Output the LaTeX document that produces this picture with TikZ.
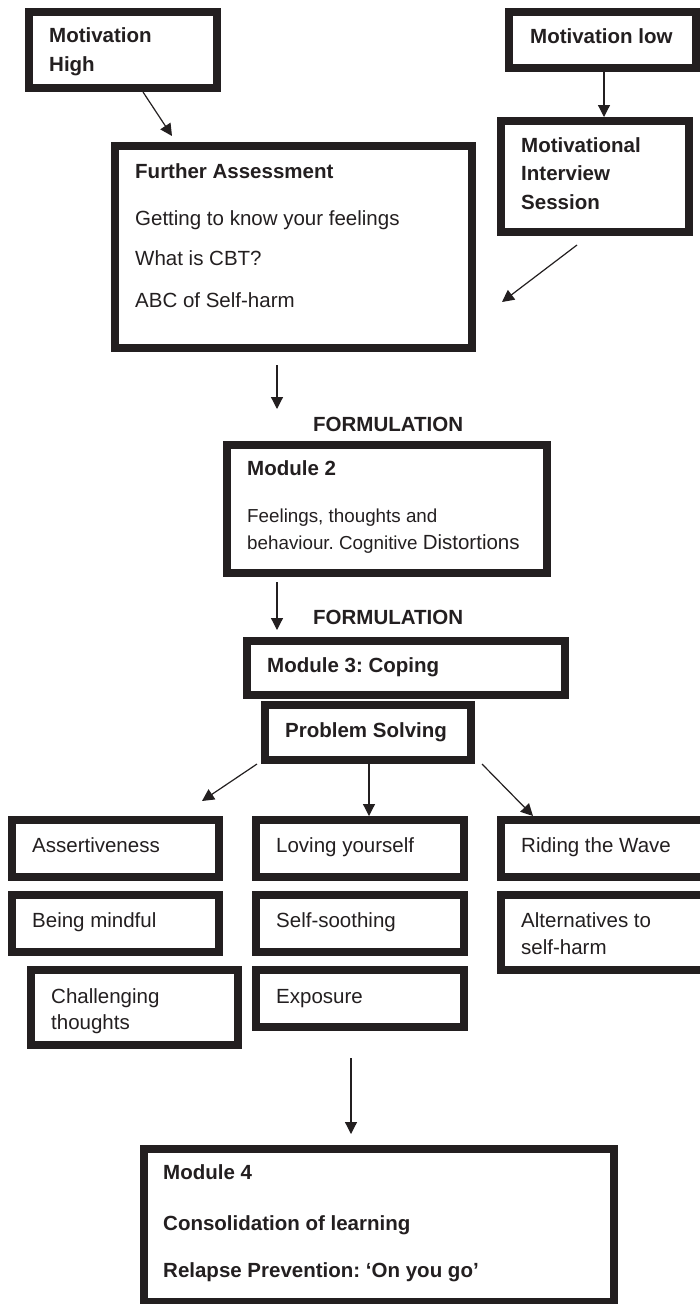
\documentclass[tikz,border=0pt]{standalone}
\usepackage{fontspec}
\setmainfont{Liberation Sans}
\usetikzlibrary{arrows.meta,calc}
\definecolor{ink}{HTML}{231F20}
\frenchspacing
\begin{document}
\begin{tikzpicture}[x=1pt,y=-1pt,
  box/.style={draw=ink, line width=8pt, inner sep=0pt},
  txt/.style={anchor=base west, inner sep=0pt, text=ink, font=\fontsize{20.5}{24}\selectfont},
  btxt/.style={txt, font=\fontsize{20.5}{24}\selectfont\bfseries},
  stxt/.style={txt, font=\fontsize{18.8}{22}\selectfont},
  conn/.style={draw=ink, line width=1.2pt, -{Triangle[width=12pt,length=12pt]}}]
\clip (0,0) rectangle (700,1304);
\fill[white] (0,0) rectangle (700,1304);

% boxes
\node[box, minimum width=188pt, minimum height=76pt]  (mh)  at (123,50) {};
\node[box, minimum width=187pt, minimum height=56pt]  (ml)  at (602.5,40) {};
\node[box, minimum width=188pt, minimum height=111pt] (mis) at (595,176.5) {};
\node[box, minimum width=357pt, minimum height=202pt] (fa)  at (293.5,247) {};
\node[box, minimum width=320pt, minimum height=128pt] (m2)  at (387,509) {};
\node[box, minimum width=318pt, minimum height=54pt]  (m3)  at (406,668) {};
\node[box, minimum width=206pt, minimum height=55pt]  (ps)  at (368,732.5) {};
\node[box, minimum width=207pt, minimum height=57pt]  (as)  at (115.5,848.5) {};
\node[box, minimum width=207pt, minimum height=57pt]  (bm)  at (115.5,923.5) {};
\node[box, minimum width=207pt, minimum height=75pt]  (ch)  at (134.5,1007.5) {};
\node[box, minimum width=208pt, minimum height=57pt]  (ly)  at (360,848.5) {};
\node[box, minimum width=208pt, minimum height=57pt]  (ss)  at (360,923.5) {};
\node[box, minimum width=208pt, minimum height=57pt]  (ex)  at (360,998.5) {};
\node[box, minimum width=207pt, minimum height=57pt]  (rw)  at (604.5,848.5) {};
\node[box, minimum width=207pt, minimum height=75pt]  (al)  at (604.5,932.5) {};
\node[box, minimum width=470pt, minimum height=153pt] (m4)  at (379,1225.5) {};

% texts
\node[btxt] (mh1) at (49,42) {Motivation};
\node[btxt] (mh2) at (49,71) {High};
\node[btxt] (ml1) at (530,43) {Motivation low};
\node[btxt] (mis1) at (521,152) {Motivational};
\node[btxt] (mis2) at (521,180) {Interview};
\node[btxt] (mis3) at (521,209) {Session};
\node[btxt] (fa1) at (135,178) {Further Assessment};
\node[txt]  (fa2) at (135,225) {Getting to know your feelings};
\node[txt]  (fa3) at (135,265) {What is CBT?};
\node[txt]  (fa4) at (135,307) {ABC of Self-harm};
\node[btxt] (f1) at (313,431) {FORMULATION};
\node[btxt] (m2a) at (247,475) {Module 2};
\node[stxt] (m2b) at (247,522) {Feelings, thoughts and};
\node[stxt] (m2c) at (247,549) {behaviour. Cognitive {\fontsize{20.5}{24}\selectfont Distortions}};
\node[btxt] (f2) at (313,624) {FORMULATION};
\node[btxt] (m3a) at (267,672) {Module 3: Coping};
\node[btxt] (psa) at (285,737) {Problem Solving};
\node[txt] (asa) at (32,852) {Assertiveness};
\node[txt] (bma) at (32,927) {Being mindful};
\node[txt] (cha) at (51,1003) {Challenging};
\node[txt] (chb) at (51,1029) {thoughts};
\node[txt] (lya) at (276,852) {Loving yourself};
\node[txt] (ssa) at (276,927) {Self-soothing};
\node[txt] (exa) at (276,1003) {Exposure};
\node[txt] (rwa) at (521,852) {Riding the Wave};
\node[txt] (ala) at (521,927) {Alternatives to};
\node[txt] (alb) at (521,954) {self-harm};
\node[btxt] (m4a) at (163,1179) {Module 4};
\node[btxt] (m4b) at (163,1230) {Consolidation of learning};
\node[btxt] (m4c) at (163,1277) {Relapse Prevention: ‘On you go’};

% free connector ends
\coordinate (t1) at (172,136);
\coordinate (s3) at (577,245);
\coordinate (t3) at (502,302);
\coordinate (s4) at (277,365);
\coordinate (t4) at (277,409);
\coordinate (t5) at (277,630);
\coordinate (t6) at (202,801);
\coordinate (s9) at (351,1058);
\coordinate (t9) at (351,1134);

% connectors
\draw[conn] ($(mh.south)+(20,0)$) -- (t1);
\draw[conn] ($(ml.south)+(1.5,0)$) -- ($(mis.north)+(9,0)$);
\draw[conn] (s3) -- (t3);
\draw[conn] (s4) -- (t4);
\draw[conn] ($(m2.south)+(-110,5)$) -- (t5);
\draw[conn] ($(ps.south west)+(-4,0)$) -- (t6);
\draw[conn] ($(ps.south)+(1,0)$) -- ($(ly.north)+(9,0)$);
\draw[conn] ($(ps.south east)+(7,0)$) -- ($(rw.north west)+(36,0)$);
\draw[conn] (s9) -- (t9);
\end{tikzpicture}
\end{document}
